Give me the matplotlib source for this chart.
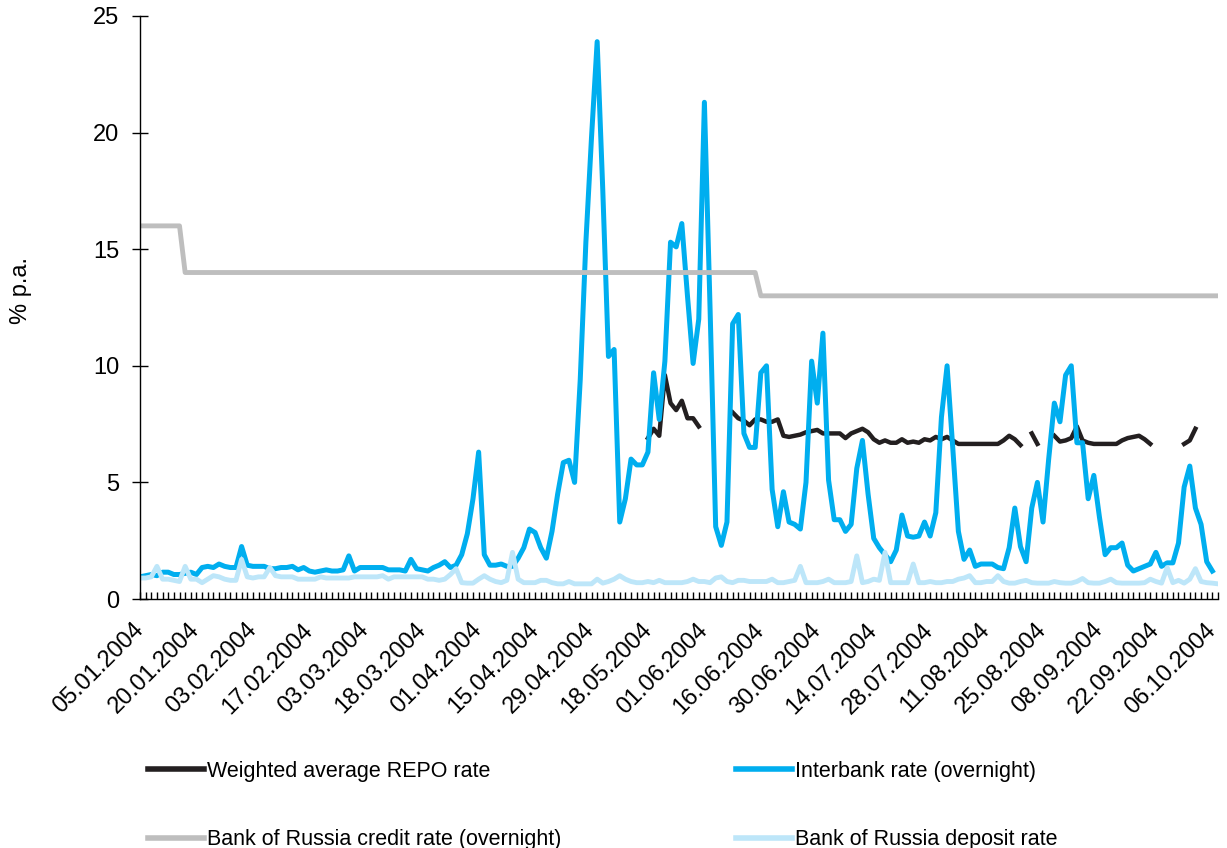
import numpy as np
import matplotlib
matplotlib.use('Agg')
import matplotlib.pyplot as plt
from matplotlib.ticker import FixedLocator, MultipleLocator

nan = np.nan

# Trading days 05.01.2004 - 07.10.2004, labels every 10th day
tick_labels = ['05.01.2004', '20.01.2004', '03.02.2004', '17.02.2004', '03.03.2004',
               '18.03.2004', '01.04.2004', '15.04.2004', '29.04.2004', '18.05.2004',
               '01.06.2004', '16.06.2004', '30.06.2004', '14.07.2004', '28.07.2004',
               '11.08.2004', '25.08.2004', '08.09.2004', '22.09.2004', '06.10.2004']

repo_rate = [
    nan, nan, nan, nan, nan, nan, nan, nan, nan, nan,
    nan, nan, nan, nan, nan, nan, nan, nan, nan, nan,
    nan, nan, nan, nan, nan, nan, nan, nan, nan, nan,
    nan, nan, nan, nan, nan, nan, nan, nan, nan, nan,
    nan, nan, nan, nan, nan, nan, nan, nan, nan, nan,
    nan, nan, nan, nan, nan, nan, nan, nan, nan, nan,
    nan, nan, nan, nan, nan, nan, nan, nan, nan, nan,
    nan, nan, nan, nan, nan, nan, nan, nan, nan, nan,
    nan, nan, nan, nan, nan, nan, nan, nan, nan, nan,
    6.9, 7.3, 7.0, 9.6, 8.4, 8.1, 8.5, 7.75, 7.75, 7.4,
    nan, nan, nan, nan, nan, 8.0, 7.75, 7.65, 7.45, 7.7,
    7.7, 7.6, 7.6, 7.7, 7.0, 6.95, 7.0, 7.05, 7.15, 7.2,
    7.25, 7.1, 7.1, 7.1, 7.1, 6.9, 7.1, 7.2, 7.3, 7.15,
    6.85, 6.7, 6.8, 6.7, 6.7, 6.85, 6.7, 6.75, 6.7, 6.85,
    6.8, 6.95, 6.85, 6.95, 6.8, 6.65, 6.65, 6.65, 6.65, 6.65,
    6.65, 6.65, 6.65, 6.8, 7.0, 6.85, 6.6, nan, 7.1, 6.65,
    nan, nan, 7.0, 6.75, 6.8, 6.9, 7.4, 6.8, 6.7, 6.65,
    6.65, 6.65, 6.65, 6.65, 6.8, 6.9, 6.95, 7.0, 6.85, 6.65,
    nan, nan, nan, nan, nan, 6.65, 6.8, 7.3, nan, nan,
    nan, nan]

interbank_rate = [
    0.95, 1.0, 1.05, 1.0, 1.15, 1.15, 1.05, 1.05, 1.1, 1.15,
    1.05, 1.35, 1.4, 1.35, 1.5, 1.4, 1.35, 1.35, 2.25, 1.45,
    1.4, 1.4, 1.4, 1.3, 1.3, 1.35, 1.35, 1.4, 1.25, 1.35,
    1.2, 1.15, 1.2, 1.25, 1.2, 1.2, 1.25, 1.85, 1.2, 1.35,
    1.35, 1.35, 1.35, 1.35, 1.25, 1.25, 1.25, 1.2, 1.7, 1.3,
    1.25, 1.2, 1.35, 1.45, 1.6, 1.35, 1.45, 1.9, 2.8, 4.3,
    6.3, 1.9, 1.45, 1.45, 1.5, 1.4, 1.4, 1.75, 2.2, 3.0,
    2.85, 2.2, 1.75, 2.9, 4.5, 5.85, 5.95, 5.0, 9.4, 15.3,
    19.8, 23.9, 17.5, 10.4, 10.7, 3.3, 4.3, 6.0, 5.75, 5.75,
    6.3, 9.7, 7.7, 10.2, 15.3, 15.1, 16.1, 13.0, 10.1, 12.0,
    21.3, 12.5, 3.1, 2.3, 3.3, 11.8, 12.2, 7.1, 6.5, 6.5,
    9.7, 10.0, 4.7, 3.1, 4.6, 3.3, 3.2, 3.0, 5.0, 10.2,
    8.4, 11.4, 5.1, 3.4, 3.4, 2.9, 3.2, 5.6, 6.8, 4.5,
    2.6, 2.2, 1.9, 1.6, 2.1, 3.6, 2.7, 2.65, 2.7, 3.3,
    2.7, 3.7, 7.8, 10.0, 6.5, 2.9, 1.7, 2.1, 1.4, 1.5,
    1.5, 1.5, 1.35, 1.3, 2.2, 3.9, 2.25, 1.6, 3.9, 5.0,
    3.3, 6.0, 8.4, 7.6, 9.6, 10.0, 6.7, 6.7, 4.3, 5.3,
    3.5, 1.9, 2.2, 2.2, 2.4, 1.45, 1.2, 1.3, 1.4, 1.5,
    2.0, 1.4, 1.55, 1.55, 2.4, 4.8, 5.7, 3.9, 3.2, 1.6,
    1.2, nan]

credit_rate = [
    16, 16, 16, 16, 16, 16, 16, 16, 14, 14,
    14, 14, 14, 14, 14, 14, 14, 14, 14, 14,
    14, 14, 14, 14, 14, 14, 14, 14, 14, 14,
    14, 14, 14, 14, 14, 14, 14, 14, 14, 14,
    14, 14, 14, 14, 14, 14, 14, 14, 14, 14,
    14, 14, 14, 14, 14, 14, 14, 14, 14, 14,
    14, 14, 14, 14, 14, 14, 14, 14, 14, 14,
    14, 14, 14, 14, 14, 14, 14, 14, 14, 14,
    14, 14, 14, 14, 14, 14, 14, 14, 14, 14,
    14, 14, 14, 14, 14, 14, 14, 14, 14, 14,
    14, 14, 14, 14, 14, 14, 14, 14, 14, 14,
    13, 13, 13, 13, 13, 13, 13, 13, 13, 13,
    13, 13, 13, 13, 13, 13, 13, 13, 13, 13,
    13, 13, 13, 13, 13, 13, 13, 13, 13, 13,
    13, 13, 13, 13, 13, 13, 13, 13, 13, 13,
    13, 13, 13, 13, 13, 13, 13, 13, 13, 13,
    13, 13, 13, 13, 13, 13, 13, 13, 13, 13,
    13, 13, 13, 13, 13, 13, 13, 13, 13, 13,
    13, 13, 13, 13, 13, 13, 13, 13, 13, 13,
    13, 13]

deposit_rate = [
    0.9, 0.9, 0.95, 1.4, 0.85, 0.85, 0.8, 0.75, 1.4, 0.85,
    0.85, 0.7, 0.85, 1.0, 0.95, 0.85, 0.8, 0.8, 1.7, 0.95,
    0.9, 0.95, 0.95, 1.35, 1.0, 0.95, 0.95, 0.95, 0.85, 0.85,
    0.85, 0.85, 0.95, 0.9, 0.9, 0.9, 0.9, 0.9, 0.95, 0.95,
    0.95, 0.95, 0.95, 1.0, 0.85, 0.95, 0.95, 0.95, 0.95, 0.95,
    0.95, 0.85, 0.85, 0.8, 0.85, 1.05, 1.3, 0.7, 0.68, 0.68,
    0.85, 1.0, 0.85, 0.75, 0.7, 0.8, 2.0, 0.85, 0.7, 0.7,
    0.7, 0.8, 0.8, 0.7, 0.65, 0.65, 0.75, 0.65, 0.65, 0.65,
    0.65, 0.85, 0.68, 0.75, 0.85, 1.0, 0.85, 0.75, 0.7, 0.7,
    0.75, 0.7, 0.8, 0.7, 0.7, 0.7, 0.7, 0.75, 0.85, 0.75,
    0.75, 0.7, 0.9, 0.95, 0.75, 0.7, 0.8, 0.8, 0.75, 0.75,
    0.75, 0.75, 0.85, 0.7, 0.7, 0.75, 0.8, 1.4, 0.7, 0.7,
    0.7, 0.75, 0.85, 0.7, 0.7, 0.7, 0.75, 1.85, 0.7, 0.75,
    0.85, 0.8, 2.0, 0.7, 0.7, 0.7, 0.7, 1.5, 0.7, 0.7,
    0.75, 0.7, 0.7, 0.75, 0.75, 0.85, 0.9, 1.0, 0.7, 0.7,
    0.75, 0.75, 1.0, 0.75, 0.68, 0.68, 0.75, 0.8, 0.7, 0.68,
    0.68, 0.68, 0.75, 0.7, 0.68, 0.68, 0.75, 0.88, 0.7, 0.68,
    0.68, 0.75, 0.85, 0.7, 0.68, 0.68, 0.68, 0.68, 0.7, 0.85,
    0.75, 0.68, 1.35, 0.7, 0.8, 0.68, 0.85, 1.3, 0.75, 0.7,
    0.68, 0.65]

x = np.arange(len(credit_rate))

plt.rcParams['font.family'] = ['Liberation Sans', 'DejaVu Sans']

fig = plt.figure(figsize=(12.27, 8.48), dpi=100)
ax = fig.add_axes([140 / 1227, 1 - 599 / 848, 1078 / 1227, 583 / 848])

# Excel series order: first one at the bottom
l_repo, = ax.plot(x, repo_rate, color='#231f20', lw=3.2, label='Weighted average REPO rate')
l_ib, = ax.plot(x, interbank_rate, color='#00aeef', lw=3.6, label='Interbank rate (overnight)')
l_cr, = ax.plot(x, credit_rate, color='#bebebe', lw=3.5, label='Bank of Russia credit rate (overnight)')
l_dep, = ax.plot(x, deposit_rate, color='#bde6f9', lw=3.5, label='Bank of Russia deposit rate')

ax.set_xlim(0, len(credit_rate) - 1)
ax.set_ylim(0, 25)

ax.spines['top'].set_visible(False)
ax.spines['right'].set_visible(False)
ax.spines['left'].set_linewidth(1)
ax.spines['bottom'].set_linewidth(1)

ax.yaxis.set_major_locator(MultipleLocator(5))
ax.tick_params(axis='y', direction='inout', length=12, width=1, pad=9, labelsize=17)

ax.xaxis.set_major_locator(FixedLocator(np.arange(0, 191, 10)))
ax.xaxis.set_minor_locator(MultipleLocator(1))
ax.set_xticklabels(tick_labels, rotation=45, ha='right', va='center', rotation_mode='anchor')
ax.tick_params(axis='x', which='both', direction='in', length=5, width=1, pad=20, labelsize=17)

ax.set_ylabel('% p.a.', fontsize=17)
ax.yaxis.set_label_coords(-0.1, 0.53)

fig.legend(handles=[l_repo, l_cr, l_ib, l_dep], ncol=2, frameon=False,
           loc='upper left', bbox_to_anchor=(148 / 1227, 1 - 761 / 848),
           fontsize=15.5, handlelength=2.6, handletextpad=0.15,
           columnspacing=8.1, labelspacing=2.2, borderaxespad=0, borderpad=0)
for h in fig.legends[0].legend_handles:
    h.set_linewidth(4)

fig.savefig('out.png', dpi=100)
